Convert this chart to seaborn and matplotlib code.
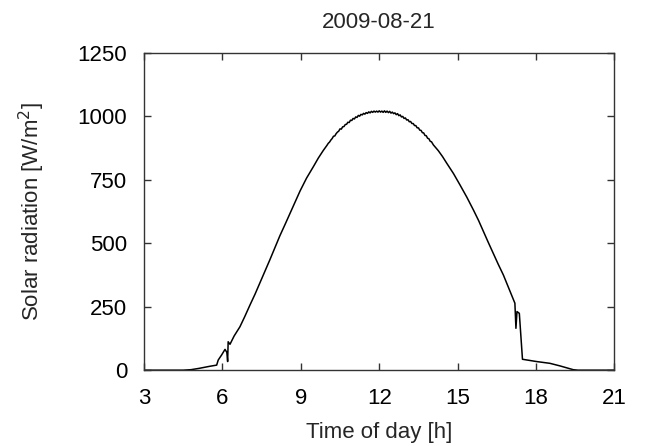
import matplotlib
matplotlib.use("Agg")
import matplotlib.pyplot as plt
import seaborn as sns
import pandas as pd

# Data
morning_h = [3.0, 4.5, 4.8, 5.1, 5.5, 5.78, 5.84, 5.97, 6.10, 6.17, 6.20, 6.22, 6.29,
             6.45, 6.67, 6.85, 7.06, 7.25, 7.44, 7.63, 7.82, 8.01, 8.20, 8.40, 8.59,
             8.78, 8.97, 9.22, 9.48, 9.67, 9.86]
morning_w = [0, 0, 2, 7, 15, 20, 40, 60, 82, 70, 34, 112, 102,
             135, 171, 210, 258, 300, 345, 390, 436, 483, 530, 575, 619,
             664, 706, 757, 802, 836, 866]

midday_h = [10.00, 10.05, 10.10, 10.15, 10.20, 10.25, 10.30, 10.35, 10.40, 10.45,
            10.50, 10.55, 10.60, 10.65, 10.70, 10.75, 10.80, 10.85, 10.90, 10.95,
            11.00, 11.05, 11.10, 11.15, 11.20, 11.25, 11.30, 11.35, 11.40, 11.45,
            11.50, 11.55, 11.60, 11.65, 11.70, 11.75, 11.80, 11.85, 11.90, 11.95,
            12.00, 12.05, 12.10, 12.15, 12.20, 12.25, 12.30, 12.35, 12.40, 12.45,
            12.50, 12.55, 12.60, 12.65, 12.70, 12.75, 12.80, 12.85, 12.90, 12.95,
            13.00, 13.05, 13.10, 13.15, 13.20, 13.25, 13.30, 13.35, 13.40, 13.45,
            13.50, 13.55, 13.60, 13.65, 13.70, 13.75, 13.80, 13.85, 13.90, 13.95,
            14.00]
midday_w = [886, 894, 899, 907, 913, 922, 923, 932, 938, 942,
            951, 950, 959, 960, 968, 969, 977, 976, 985, 984,
            992, 990, 998, 996, 1004, 1001, 1008, 1006, 1012, 1009,
            1015, 1012, 1018, 1014, 1020, 1016, 1021, 1017, 1021, 1017,
            1022, 1017, 1021, 1016, 1022, 1016, 1021, 1015, 1020, 1013,
            1017, 1011, 1014, 1007, 1011, 1003, 1006, 998, 1000, 992,
            994, 986, 987, 979, 980, 972, 972, 964, 964, 955,
            955, 946, 945, 936, 935, 925, 924, 914, 912, 902,
            900]

evening_h = [14.07, 14.26, 14.42, 14.58, 14.84, 15.09, 15.35, 15.60, 15.80, 15.98,
             16.17, 16.36, 16.55, 16.75, 16.97, 17.19, 17.23, 17.27, 17.36, 17.42,
             17.48, 18.02, 18.53, 18.91, 19.42, 19.6, 21.0]
evening_w = [888, 865, 842, 816, 775, 730, 682, 632, 590, 548,
             504, 461, 418, 375, 320, 264, 165, 231, 224, 132,
             43, 34, 27, 17, 2, 0, 0]

x_ticks = [3, 6, 9, 12, 15, 18, 21]
y_ticks = [0, 250, 500, 750, 1000, 1250]
title = "2009-08-21"

df = pd.DataFrame({"hour": morning_h + midday_h + evening_h,
                   "rad": morning_w + midday_w + evening_w})

sns.set_theme(style="ticks")
plt.rcParams["font.family"] = ["Liberation Sans", "DejaVu Sans"]

fig = plt.figure(figsize=(6.46, 4.46), dpi=100)
ax = fig.add_axes([0.2229, 0.170, 0.9512 - 0.2229, 0.8812 - 0.170])

sns.lineplot(data=df, x="hour", y="rad", ax=ax, color="black", linewidth=1.1,
             estimator=None, sort=False)

ax.set_xlim(3, 21)
ax.set_ylim(0, 1250)
ax.set_xticks(x_ticks)
ax.set_yticks(y_ticks)
ax.tick_params(direction="in", length=5, width=1, labelsize=16, colors="#333333",
               labelcolor="black", top=True, right=True)
ax.tick_params(axis="x", pad=12.5)
ax.tick_params(axis="y", pad=12)
for s in ax.spines.values():
    s.set_visible(True)
    s.set_linewidth(1.0)
    s.set_color("#333333")

ax.set_xlabel("Time of day [h]", fontsize=16, labelpad=10)
ax.set_ylabel("Solar radiation [W/m$^2$]", fontsize=16, labelpad=22)
ax.set_title(title, fontsize=16, pad=18)

fig.savefig("out.png", dpi=100)
